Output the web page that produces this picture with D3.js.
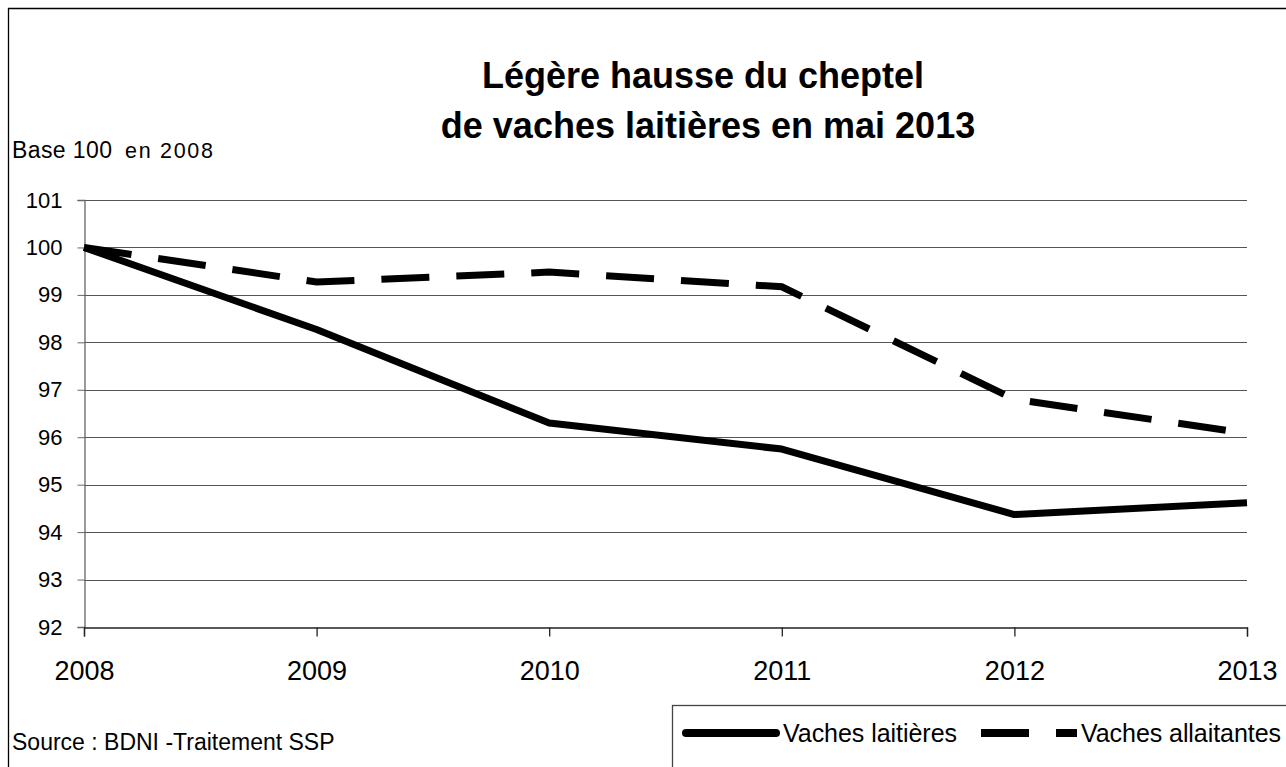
<!DOCTYPE html>
<html>
<head>
<meta charset="utf-8">
<script src="https://cdn.jsdelivr.net/npm/d3@7"></script>
<style>
  body { margin: 0; background: #fff; }
  svg { display: block; font-family: "Liberation Sans", Arial, sans-serif; }
</style>
</head>
<body>
<svg id="chart" width="1286" height="767"></svg>
<script>
// Données
const years = [2008, 2009, 2010, 2011, 2012, 2013];
const laitieres = [100, 98.27, 96.3, 95.75, 94.37, 94.62];
const allaitantes = [100, 99.27, 99.48, 99.17, 96.8, 96.08];
const yTicks = [92, 93, 94, 95, 96, 97, 98, 99, 100, 101];

const FONT = "Liberation Sans, Arial, sans-serif";
const svg = d3.select("#chart");

// cadre extérieur
svg.append("path")
  .attr("d", "M8.5,767 L8.5,8.5 L1286,8.5")
  .attr("fill", "none").attr("stroke", "#000").attr("stroke-width", 1.3);

// échelles
const x = d3.scalePoint().domain(years).range([84, 1247]);
const y = d3.scaleLinear().domain([92, 101]).range([627, 200]);

// Titre
const title = svg.append("text")
  .attr("text-anchor", "middle").attr("font-size", 36).attr("font-weight", "bold");
title.append("tspan").attr("x", 703).attr("y", 88).text("Légère hausse du cheptel");
title.append("tspan").attr("x", 708).attr("y", 138).text("de vaches laitières en mai 2013");

svg.append("text").attr("x", 12).attr("y", 158).attr("font-size", 23)
  .attr("textLength", 100).attr("lengthAdjust", "spacing").text("Base 100");
svg.append("text").attr("x", 125).attr("y", 158).attr("font-size", 21.5)
  .attr("textLength", 88).attr("lengthAdjust", "spacing").text("en 2008");

// grille
svg.append("g").selectAll("line")
  .data(yTicks.filter(d => d > 92))
  .join("line")
  .attr("x1", 84).attr("x2", 1247)
  .attr("y1", d => Math.round(y(d)) + 0.5).attr("y2", d => Math.round(y(d)) + 0.5)
  .attr("stroke", "#555").attr("stroke-width", 1);

// axe Y
const yAxis = svg.append("g").attr("transform", "translate(84.5,0)")
  .call(d3.axisLeft(y).tickValues(yTicks).tickSize(7).tickPadding(15).tickFormat(d3.format("d")));
yAxis.select(".domain").attr("stroke", "#666").attr("stroke-width", 1.3);
yAxis.selectAll(".tick line").attr("stroke", "#666");
yAxis.selectAll("text").attr("font-size", 22).attr("font-family", FONT).attr("fill", "#000");

// axe X
const xAxis = svg.append("g").attr("transform", "translate(0,627.5)")
  .call(d3.axisBottom(x).tickSize(9).tickPadding(24).tickFormat(d3.format("d")));
xAxis.select(".domain").attr("stroke", "#222").attr("stroke-width", 1.3);
xAxis.selectAll(".tick line").attr("stroke", "#222").attr("stroke-width", 1.3);
xAxis.selectAll("text").attr("font-size", 27).attr("font-family", FONT).attr("fill", "#000");

// séries
const line = d3.line().x((d, i) => x(years[i])).y(d => y(d));

svg.append("path").datum(laitieres)
  .attr("d", line).attr("fill", "none").attr("stroke", "#000")
  .attr("stroke-width", 7).attr("stroke-linejoin", "round");

svg.append("path").datum(allaitantes)
  .attr("d", line).attr("fill", "none").attr("stroke", "#000")
  .attr("stroke-width", 7).attr("stroke-dasharray", "48,27");

// Source
svg.append("text").attr("x", 12).attr("y", 750).attr("font-size", 23).text("Source : BDNI -Traitement SSP");

// Légende
const lg = svg.append("g");
lg.append("rect").attr("x", 672.5).attr("y", 705.5).attr("width", 640).attr("height", 80)
  .attr("fill", "#fff").attr("stroke", "#444").attr("stroke-width", 1.3);
lg.append("line").attr("x1", 686).attr("x2", 776).attr("y1", 733).attr("y2", 733)
  .attr("stroke", "#000").attr("stroke-width", 8).attr("stroke-linecap", "round");
lg.append("text").attr("x", 783).attr("y", 742).attr("font-size", 25)
  .attr("textLength", 174).attr("lengthAdjust", "spacing").text("Vaches laitières");
lg.append("line").attr("x1", 981).attr("x2", 1077).attr("y1", 733).attr("y2", 733)
  .attr("stroke", "#000").attr("stroke-width", 8).attr("stroke-dasharray", "48,27");
lg.append("text").attr("x", 1081).attr("y", 742).attr("font-size", 25)
  .attr("textLength", 200).attr("lengthAdjust", "spacing").text("Vaches allaitantes");
</script>
</body>
</html>
